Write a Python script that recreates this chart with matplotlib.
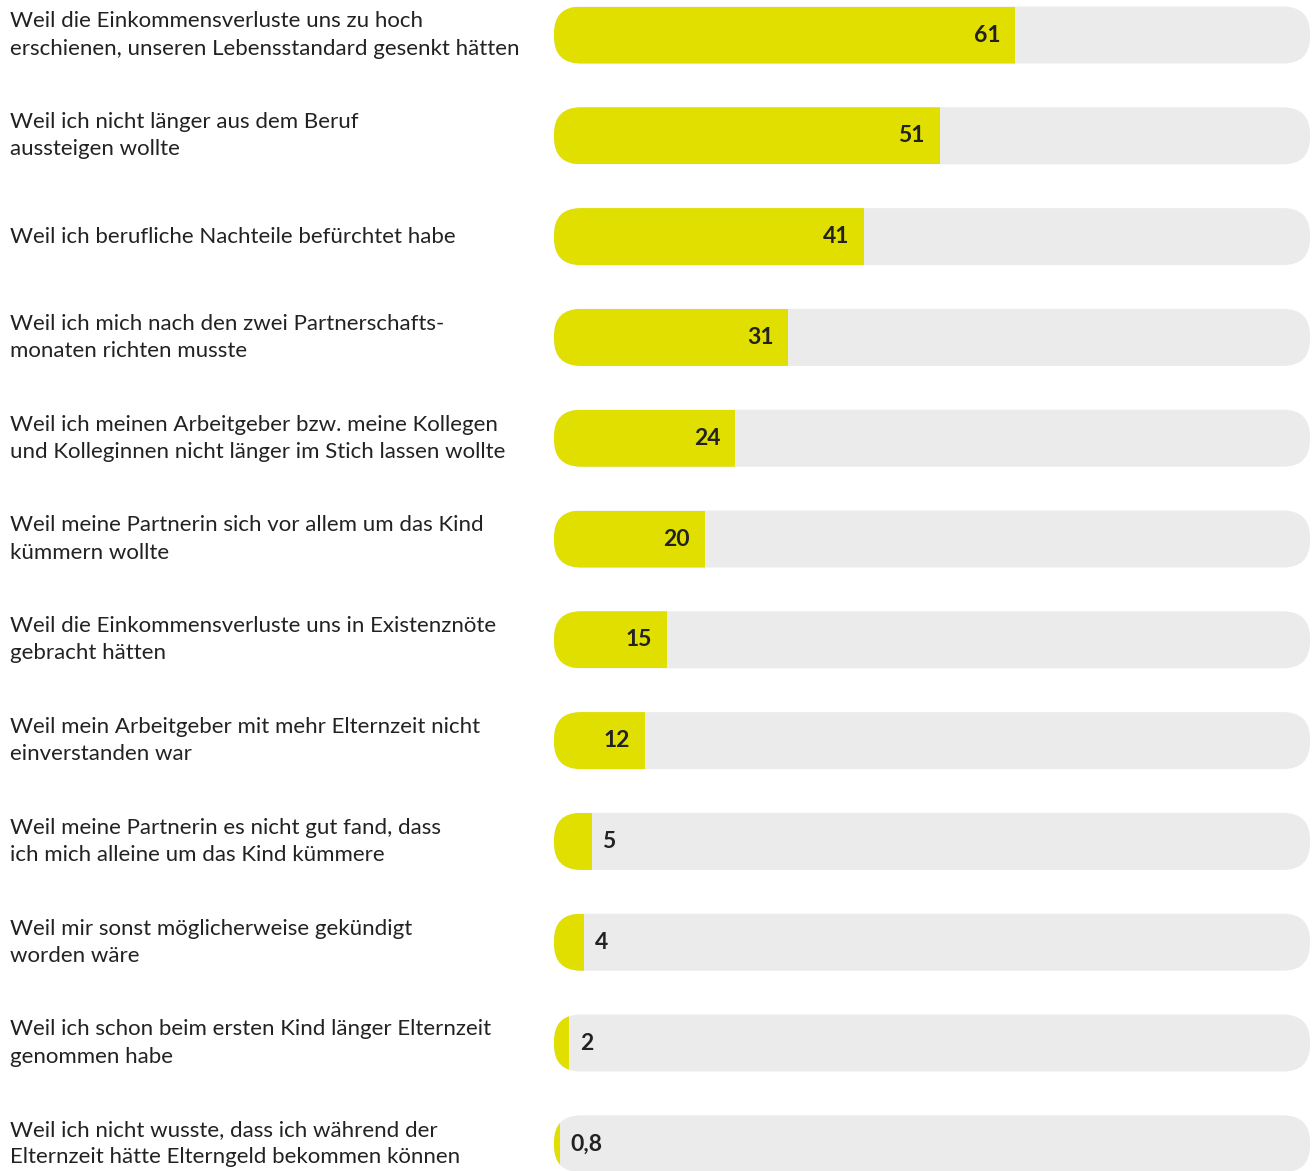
import matplotlib.pyplot as plt
from matplotlib.patches import FancyBboxPatch, Rectangle
import matplotlib.transforms as mtransforms

reasons = [
    "Weil die Einkommensverluste uns zu hoch\nerschienen, unseren Lebensstandard gesenkt hätten",
    "Weil ich nicht länger aus dem Beruf\naussteigen wollte",
    "Weil ich berufliche Nachteile befürchtet habe",
    "Weil ich mich nach den zwei Partnerschafts-\nmonaten richten musste",
    "Weil ich meinen Arbeitgeber bzw. meine Kollegen\nund Kolleginnen nicht länger im Stich lassen wollte",
    "Weil meine Partnerin sich vor allem um das Kind\nkümmern wollte",
    "Weil die Einkommensverluste uns in Existenznöte\ngebracht hätten",
    "Weil mein Arbeitgeber mit mehr Elternzeit nicht\neinverstanden war",
    "Weil meine Partnerin es nicht gut fand, dass\nich mich alleine um das Kind kümmere",
    "Weil mir sonst möglicherweise gekündigt\nworden wäre",
    "Weil ich schon beim ersten Kind länger Elternzeit\ngenommen habe",
    "Weil ich nicht wusste, dass ich während der\nElternzeit hätte Elterngeld bekommen können",
]
values = [61, 51, 41, 31, 24, 20, 15, 12, 5, 4, 2, 0.8]
value_labels = ["61", "51", "41", "31", "24", "20", "15", "12", "5", "4", "2", "0,8"]

YELLOW = "#E0DF00"
TRACK = "#EBEBEB"
TEXT = "#222222"
FONT = "Lato"

W, H = 1312, 1171
fig = plt.figure(figsize=(W / 100, H / 100), dpi=100)
fig.patch.set_facecolor("white")

# bar area in pixels
left_px, right_px = 554, 1310
ax = fig.add_axes([left_px / W, 0, (right_px - left_px) / W, 1])
ax.set_xlim(0, 100)
ax.set_ylim(H, 0)
ax.axis("off")

px_per_unit = (right_px - left_px) / 100.0
bar_h = 57
radius_px = 27
first_center, step = 35, 100.8

label_tf = mtransforms.blended_transform_factory(fig.transFigure, ax.transData)

for i, (reason, val, vl) in enumerate(zip(reasons, values, value_labels)):
    yc = first_center + i * step
    y0 = yc - bar_h / 2

    track = FancyBboxPatch((0, y0), 100, bar_h,
                           boxstyle="round,pad=0,rounding_size=%f" % (radius_px / px_per_unit),
                           mutation_aspect=px_per_unit,
                           facecolor=TRACK, edgecolor="none", clip_on=False)
    ax.add_patch(track)

    fill = Rectangle((0, y0), val, bar_h, facecolor=YELLOW, edgecolor="none")
    ax.add_patch(fill)
    fill.set_clip_path(track)

    if val >= 10:
        ax.text(val - 2.0, yc, vl, ha="right", va="center", fontsize=16.5,
                fontweight="bold", color=TEXT, family=FONT)
    else:
        ax.text(val + 1.4, yc, vl, ha="left", va="center", fontsize=16.5,
                fontweight="bold", color=TEXT, family=FONT)

    ax.text(10 / W, yc, reason, transform=label_tf, ha="left", va="center",
            fontsize=16, color=TEXT, family=FONT, linespacing=1.45)

fig.savefig("out.png", dpi=100, facecolor="white")
